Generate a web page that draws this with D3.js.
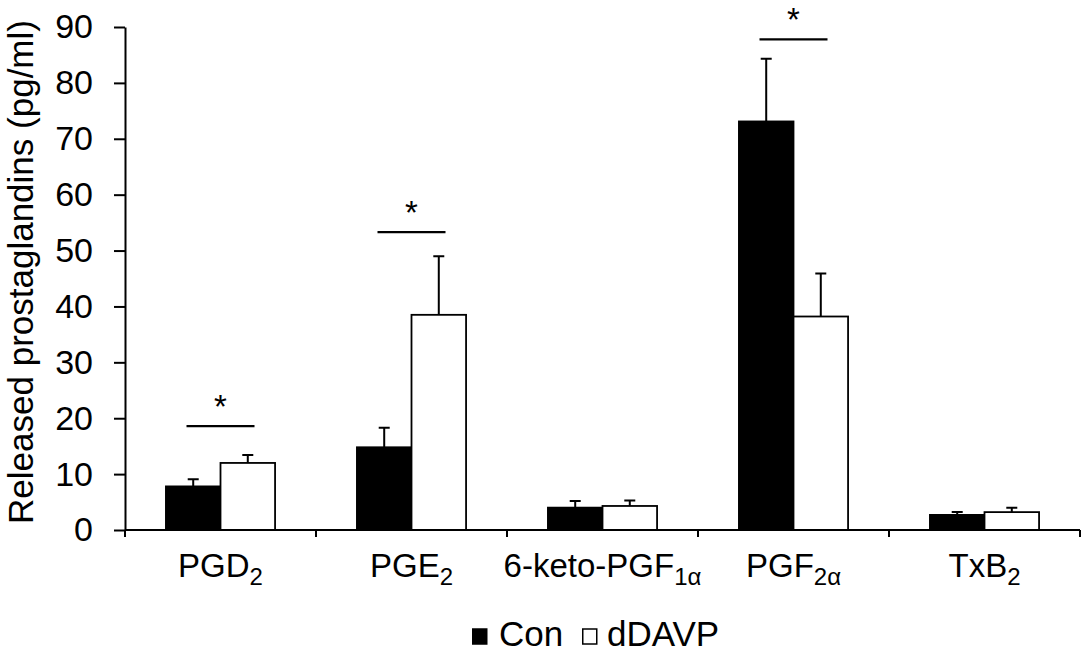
<!DOCTYPE html>
<html>
<head>
<meta charset="utf-8">
<script src="https://cdn.jsdelivr.net/npm/d3@7"></script>
<style>
  body { margin: 0; background: #fff; }
  svg { display: block; font-family: "Liberation Sans", Arial, sans-serif; }
</style>
</head>
<body>
<div id="chart"></div>
<script>
////////////////////////////////////////////////////////////////
// Data

// category labels split into main text + subscript
var labelMain = ["PGD", "PGE", "6-keto-PGF", "PGF", "TxB"];
var labelSub = ["2", "2", "1\u03b1", "2\u03b1", "2"];
var categories = labelMain.map((m, i) => m + labelSub[i]);

var series = ["Con", "dDAVP"];
var conValues = [7.8, 14.8, 4.0, 73.1, 2.7];
var conErrors = [1.3, 3.5, 1.2, 11.2, 0.5];
var ddavpValues = [12.0, 38.5, 4.3, 38.2, 3.2];
var ddavpErrors = [1.4, 10.5, 1.0, 7.7, 0.8];

var yTicks = [0, 10, 20, 30, 40, 50, 60, 70, 80, 90];

// significance bars (category, height in pg/ml)
var sigCategories = ["PGD2", "PGE2", "PGF2\u03b1"];
var sigLevels = [18.6, 53.3, 87.8];

////////////////////////////////////////////////////////////////
// Basic parameters

var svgWidth = 1084;
var svgHeight = 652;
var margin = { top: 27, right: 4, bottom: 122, left: 125 };
var width = svgWidth - margin.left - margin.right;
var height = svgHeight - margin.top - margin.bottom;

var svg = d3.select("#chart")
    .append("svg")
    .attr("width", svgWidth)
    .attr("height", svgHeight);

var chart = svg.append("g")
    .attr("transform", `translate(${margin.left}, ${margin.top})`);

// scales
var x = d3.scaleBand().domain(categories).range([0, width]).padding(0);
var xInner = d3.scaleBand().domain(series).range([0, x.bandwidth()])
    .paddingInner(0).paddingOuter(0.75);
var y = d3.scaleLinear().domain([0, 90]).range([height, 0]);

var rows = categories.map((c, i) => ({
    cat: c,
    vals: [
        { s: "Con", v: conValues[i], e: conErrors[i] },
        { s: "dDAVP", v: ddavpValues[i], e: ddavpErrors[i] }
    ]
}));

////////////////////////////////////////////////////////////////
// Bars + error bars

var groups = chart.selectAll(".cat")
    .data(rows)
    .enter()
    .append("g")
    .attr("transform", d => `translate(${x(d.cat)}, 0)`);

// error bars first (upper only), bars drawn over them
groups.selectAll(".err")
    .data(d => d.vals)
    .enter()
    .append("path")
    .attr("d", d => {
        var cx = xInner(d.s) + xInner.bandwidth() / 2;
        var yt = y(d.v + d.e);
        return `M${cx},${y(d.v)}V${yt}M${cx - 5.5},${yt}H${cx + 5.5}`;
    })
    .attr("stroke", "#000")
    .attr("stroke-width", 2)
    .attr("fill", "none");

groups.selectAll("rect")
    .data(d => d.vals)
    .enter()
    .append("rect")
    .attr("x", d => xInner(d.s))
    .attr("y", d => y(d.v))
    .attr("width", xInner.bandwidth())
    .attr("height", d => height - y(d.v))
    .attr("fill", d => d.s === "Con" ? "#000" : "#fff")
    .attr("stroke", "#000")
    .attr("stroke-width", 1.8);

////////////////////////////////////////////////////////////////
// Axes

var leftAxis = d3.axisLeft(y)
    .tickValues(yTicks)
    .tickSize(11)
    .tickSizeOuter(0)
    .tickPadding(21);

var yAxis = chart.append("g").call(leftAxis);
yAxis.select(".domain").attr("stroke-width", 2);
yAxis.selectAll(".tick line").attr("stroke-width", 2);
yAxis.selectAll(".tick text")
    .attr("font-size", "34px")
    .attr("font-family", "Liberation Sans, Arial, sans-serif")
    .attr("fill", "#000");

// x axis: line + ticks at category boundaries
var xAxis = chart.append("g").attr("transform", `translate(0, ${height})`);
xAxis.append("line")
    .attr("x1", 0).attr("x2", width)
    .attr("stroke", "#000").attr("stroke-width", 2);

var bounds = categories.map(c => x(c)).concat([x.range()[1]]);
xAxis.selectAll(".xtick")
    .data(bounds)
    .enter()
    .append("line")
    .attr("x1", d => d).attr("x2", d => d)
    .attr("y1", 0).attr("y2", 7)
    .attr("stroke", "#000").attr("stroke-width", 2);

var xLabels = xAxis.selectAll(".xlabel")
    .data(categories)
    .enter()
    .append("text")
    .attr("x", d => x(d) + x.bandwidth() / 2)
    .attr("y", 47)
    .attr("text-anchor", "middle")
    .attr("font-size", "33px")
    .attr("fill", "#000");

xLabels.append("tspan").text((d, i) => labelMain[i]);
xLabels.append("tspan")
    .attr("font-size", "24px")
    .attr("dy", 8)
    .text((d, i) => labelSub[i]);

// y title
chart.append("text")
    .attr("transform", "rotate(-90)")
    .attr("x", -245)
    .attr("y", -margin.left + 33)
    .attr("text-anchor", "middle")
    .attr("font-size", "35px")
    .attr("fill", "#000")
    .text("Released prostaglandins (pg/ml)");

////////////////////////////////////////////////////////////////
// Significance markers

var sig = chart.selectAll(".sig")
    .data(sigCategories.map((c, i) => ({ cat: c, lvl: sigLevels[i] })))
    .enter()
    .append("g")
    .attr("transform", d => `translate(${x(d.cat) + x.bandwidth() / 2}, ${y(d.lvl)})`);

sig.append("line")
    .attr("x1", -34).attr("x2", 34)
    .attr("stroke", "#000").attr("stroke-width", 2.2);

sig.append("text")
    .attr("y", -8)
    .attr("text-anchor", "middle")
    .attr("font-size", "33px")
    .attr("fill", "#000")
    .text("*");

////////////////////////////////////////////////////////////////
// Legend

var legend = svg.append("g").attr("transform", "translate(472, 646)");
var legendX = d3.scaleOrdinal().domain(series).range([0, 110]);

var items = legend.selectAll(".item")
    .data(series)
    .enter()
    .append("g")
    .attr("transform", d => `translate(${legendX(d)}, 0)`);

items.append("rect")
    .attr("x", 0.75).attr("y", -17)
    .attr("width", 14).attr("height", 15)
    .attr("fill", d => d === "Con" ? "#000" : "#fff")
    .attr("stroke", "#000").attr("stroke-width", 1.5);

items.append("text")
    .attr("x", d => d === "Con" ? 27 : 25)
    .attr("font-size", "35px")
    .attr("fill", "#000")
    .text(d => d);
</script>
</body>
</html>
